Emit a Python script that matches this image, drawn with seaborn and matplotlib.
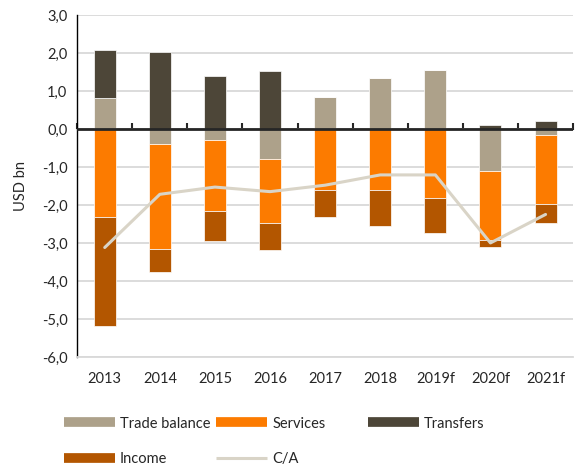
import numpy as np
import pandas as pd
import matplotlib.pyplot as plt
import seaborn as sns
from matplotlib.lines import Line2D

years = ['2013', '2014', '2015', '2016', '2017', '2018', '2019f', '2020f', '2021f']
trade = [0.81, -0.39, -0.29, -0.79, 0.84, 1.33, 1.55, -1.11, -0.17]
services = [-2.31, -2.78, -1.86, -1.69, -1.61, -1.61, -1.81, -1.81, -1.80]
income = [-2.87, -0.59, -0.81, -0.71, -0.71, -0.95, -0.94, -0.19, -0.50]
transfers = [1.26, 2.03, 1.40, 1.53, 0.0, 0.0, 0.0, 0.10, 0.21]
ca = [-3.12, -1.72, -1.53, -1.65, -1.48, -1.21, -1.21, -3.00, -2.25]

colors = {'Trade balance': '#ADA18A', 'Services': '#FC7B00',
          'Income': '#B35600', 'Transfers': '#4D4638', 'C/A': '#D9D4C7'}
series = [('Trade balance', trade), ('Services', services),
          ('Income', income), ('Transfers', transfers)]

sns.set_style('white')
plt.rcParams['font.family'] = ['Lato', 'DejaVu Sans']

fig = plt.figure(figsize=(5.76, 4.66), dpi=100)
ax = fig.add_axes([0.134, 0.234, 0.861, 0.734])

# stacked bars, positives and negatives stacked separately
pos = np.zeros(len(years))
neg = np.zeros(len(years))
for name, vals in series:
    v = np.array(vals)
    bottom = np.where(v >= 0, pos, neg)
    sns.barplot(x=years, y=v, bottom=bottom, color=colors[name], saturation=1,
                width=0.4, edgecolor='white', linewidth=0.5, ax=ax)
    pos = pos + np.where(v >= 0, v, 0)
    neg = neg + np.where(v < 0, v, 0)

sns.lineplot(x=np.arange(len(years)), y=ca, color=colors['C/A'], lw=2.2, ax=ax, sort=False)

ax.set_xlim(-0.5, len(years) - 0.5)
ax.set_ylim(-6, 3)
yt = np.arange(-6, 4)
ax.set_yticks(yt)
ax.set_yticklabels([f'{t:.1f}'.replace('.', ',') for t in yt], fontsize=10.5)
ax.tick_params(axis='y', direction='out', length=4, width=1, color='black', pad=3)
ax.tick_params(axis='x', length=0, labelsize=10.5, pad=11)
ax.set_xlabel('')
ax.set_ylabel('USD bn', fontsize=10.5, labelpad=10)

ax.yaxis.grid(True, color='#D9D9D9', lw=1.3)
ax.set_axisbelow(True)
for s in ['top', 'right']:
    ax.spines[s].set_visible(False)
ax.spines['bottom'].set_color('#D9D9D9')
ax.spines['bottom'].set_linewidth(1.3)
ax.spines['left'].set_color('black')
ax.spines['left'].set_linewidth(1)

# zero axis with ticks between categories
ax.axhline(0, color='#262626', lw=2, zorder=5)
sec = ax.secondary_xaxis(6 / 9)
sec.set_xticks(np.arange(-0.5, len(years)))
sec.set_xticklabels([])
sec.tick_params(direction='out', length=4, width=1.5, color='#262626')
sec.spines['bottom'].set_visible(False)

# legend: three fixed-width columns
def handle(name):
    if name == 'C/A':
        return Line2D([], [], color=colors[name], lw=2.2, solid_capstyle='butt')
    return Line2D([], [], color=colors[name], lw=7, solid_capstyle='butt')

columns = [(0.111, ['Trade balance', 'Income']),
           (0.375, ['Services', 'C/A']),
           (0.639, ['Transfers'])]
for x0, names in columns:
    leg = fig.legend([handle(n) for n in names], names, loc='upper left',
                     bbox_to_anchor=(x0, 0.106), frameon=False, fontsize=10.5,
                     handlelength=3.5, handletextpad=0.35, labelspacing=1.5,
                     borderpad=0, borderaxespad=0)

fig.savefig('out.png', dpi=100)
